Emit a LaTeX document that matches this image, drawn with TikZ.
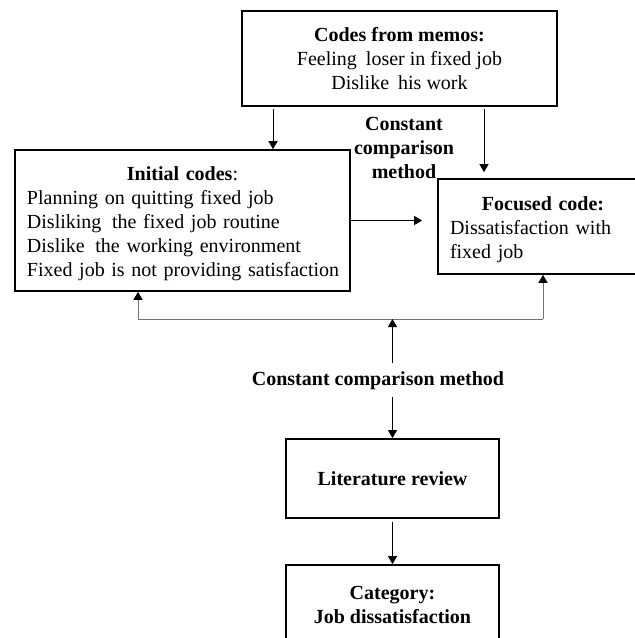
\documentclass[tikz,border=0pt]{standalone}
\usepackage{fontspec}
\setmainfont{Liberation Serif}
\usetikzlibrary{arrows.meta}
\begin{document}
\begin{tikzpicture}[x=1pt,y=-1pt,
  every node/.style={font=\fontsize{20}{24}\selectfont},
  lbl/.style={font=\fontsize{20}{24}\selectfont\bfseries, align=center, inner sep=0pt},
  box/.style={draw=black, line width=1.7pt, inner sep=0pt, align=center},
  tip/.style={-{Triangle[length=8pt,width=9pt,color=black]}},
  arr/.style={tip, line width=0.8pt, draw=black},
  fbline/.style={draw=black!55, line width=0.9pt},
  fbarr/.style={tip, line width=0.9pt, draw=black!55}]
\clip (0,0) rectangle (635,638);
\fill[white] (0,0) rectangle (635,638);

% boxes (the strut in each heading line lowers the text block a little)
\node[box, minimum width=315pt, minimum height=95pt] (memo) at (399.5,58.5)
  {\textbf{Codes from memos:}\\Feeling\hspace{0.2em} loser in fixed job\\Dislike\hspace{0.2em} his work};
\node[box, align=left, text width=311pt, inner xsep=12pt, minimum height=141pt] (initial) at (182.5,220.5)
  {{\centering\rule{0pt}{20pt}\textbf{Initial codes}:\par}\mbox{Planning on quitting fixed job}\\\mbox{Disliking\hspace{0.2em} the fixed job routine}\\\mbox{Dislike\hspace{0.2em} the working environment}\\\mbox{Fixed job is not providing satisfaction}};
\node[box, align=left, text width=186pt, inner xsep=12pt, minimum height=95pt] (focused) at (543,226.5)
  {{\centering\rule{0pt}{20pt}\textbf{Focused code:}\par}\mbox{Dissatisfaction with}\\\mbox{fixed job}};
\node[box, minimum width=213pt, minimum height=79pt] (lit) at (392.5,478.5)
  {\textbf{Literature review}};
\node[box, minimum width=213pt, minimum height=80pt] (cat) at (392.5,605)
  {\textbf{Category:}\\\textbf{Job dissatisfaction}};

% labels
\node[lbl] (ccm1) at (404,148) {Constant\\comparison\\method};
\node[lbl, text height=14pt, text depth=4pt, minimum height=34pt] (ccm2) at (378,380)
  {Constant comparison method};

% helper coordinates
\coordinate (a1) at (273,0);
\coordinate (a2) at (484,0);
\coordinate (fw) at ([xshift=-15pt]focused.west);
\coordinate (fbL) at (138,319);
\coordinate (fbR) at (543,319);

% connectors
\draw[arr] ([yshift=-2pt]memo.south -| a1) -- (initial.north -| a1);
\draw[arr] ([yshift=-2pt]memo.south -| a2) -- ([yshift=6pt]focused.north -| a2);
\draw[arr] (initial.east) -- (initial.east -| fw);
\draw[fbline] (fbL) -- (fbR);
\draw[fbarr] (fbL) -- (fbL |- initial.south);
\draw[fbarr] (fbR) -- (fbR |- focused.south);
\draw[arr] (ccm2.north -| lit.north) -- (lit.north |- fbL);
\draw[arr] (ccm2.south -| lit.north) -- (lit.north);
\draw[arr] ([yshift=-3pt]lit.south) -- (cat.north);
\end{tikzpicture}
\end{document}
